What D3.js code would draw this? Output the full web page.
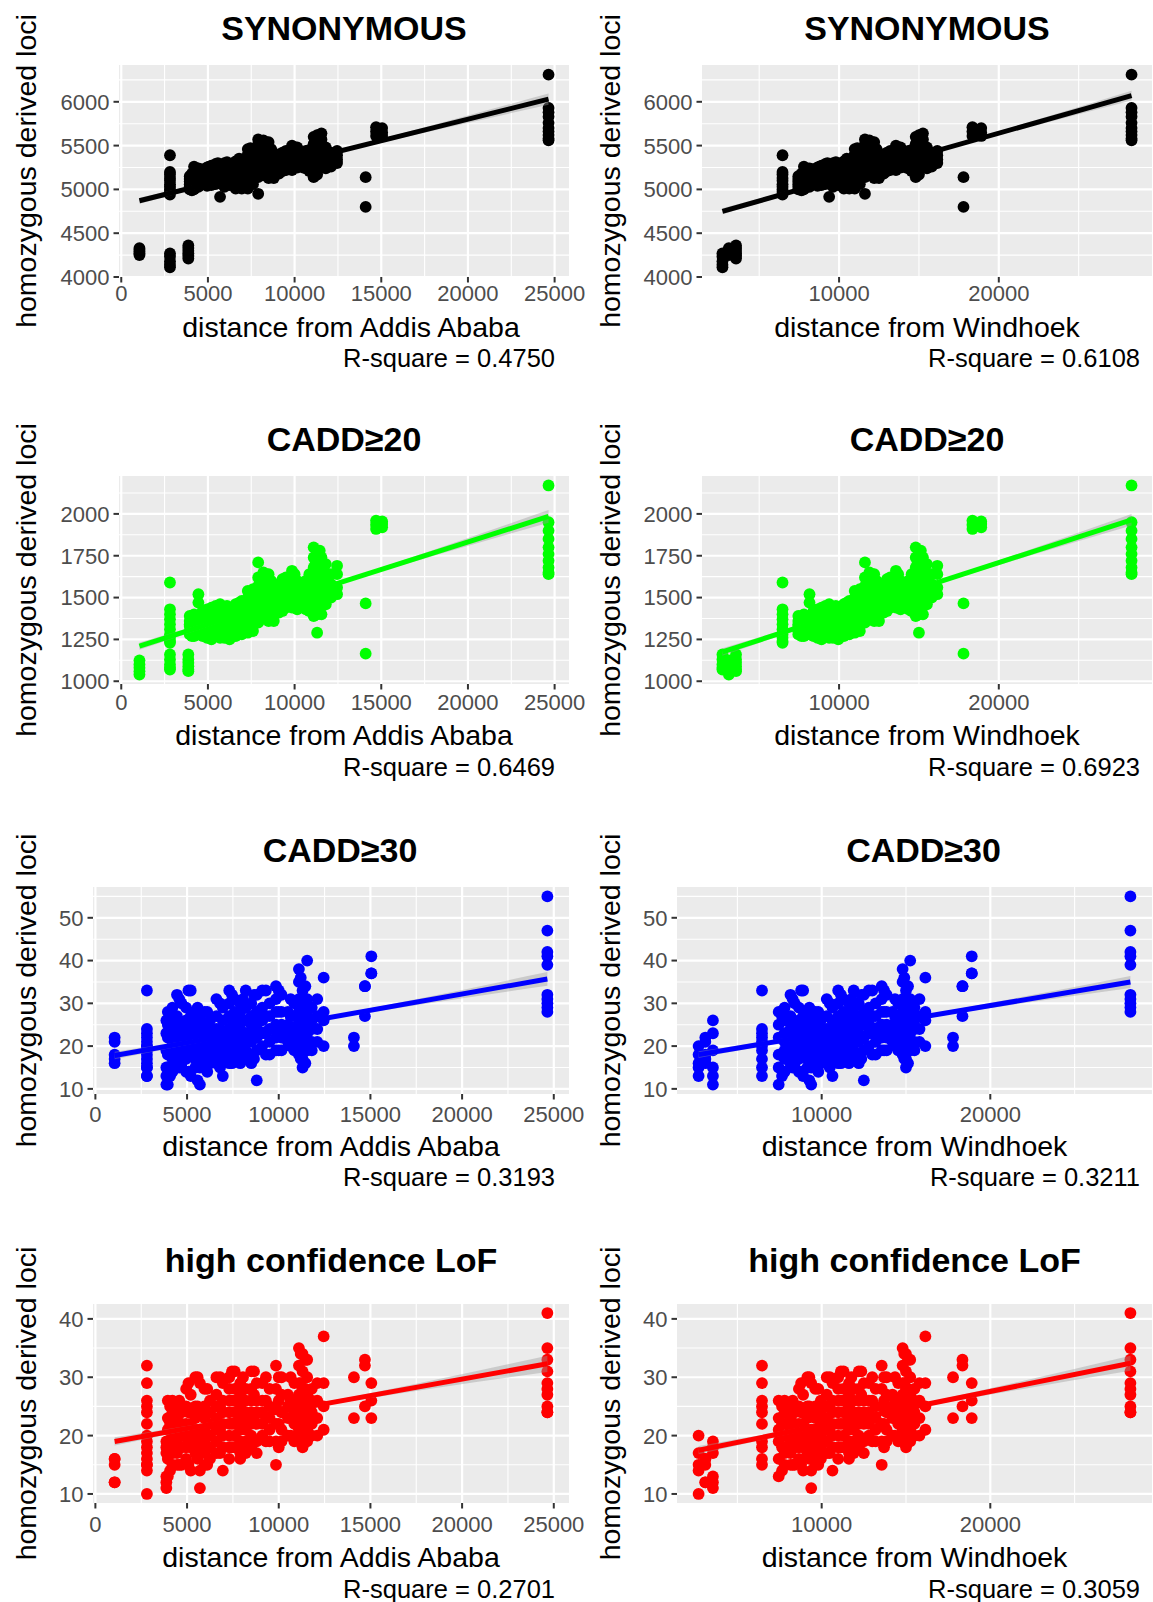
<!DOCTYPE html>
<html>
<head>
<meta charset="utf-8">
<script src="https://cdn.jsdelivr.net/npm/d3@7"></script>
<style>
  html, body { margin: 0; padding: 0; background: #ffffff; }
  svg { display: block; }
  text { font-family: "Liberation Sans", Arial, Helvetica, sans-serif; }
</style>
</head>
<body>
<svg id="chart" width="1153" height="1602"></svg>
<script>
// ---- populations: distance of each sampled population from the two reference cities ----
const distAddis = [
  1050, 2810, 2810, 3870,
  3950, 4200, 4450, 4700, 4950, 5200, 5450, 5700, 5950, 6250,
  6600, 6950, 7300, 7600, 7900, 8200, 8500, 8800, 9100, 9500,
  9850, 10150, 10500, 10850, 11100, 11300, 11550, 11800, 12450,
  14100, 14700, 15050, 24650,
  4075, 4575, 5075, 5575, 6100, 6800, 7450, 8050, 8650, 9300,
  10000, 10650, 11200, 11450, 12100
];
const distWindhoek = [
  3100, 6460, 2700, 3550,
  7450, 7800, 8150, 8400, 8650, 8900, 9150, 9380, 9620, 9950,
  10300, 10640, 10980, 11300, 11620, 11900, 12200, 12500, 12800, 13200,
  13560, 13850, 14200, 14540, 14800, 15000, 15250, 15500, 16150,
  17790, 18350, 18900, 28310,
  7650, 8280, 8780, 9270, 9800, 10480, 11140, 11760, 12350, 13000,
  13700, 14350, 14900, 15120, 15800
];

// ---- homozygous derived loci per individual, grouped by population ----
const synonymous = [
  [4330, 4310, 4290, 4270, 4250],
  [5390, 5200, 5170, 5130, 5100, 5060, 5030, 5000, 4970, 4940],
  [4270, 4230, 4180, 4140, 4110],
  [4360, 4330, 4300, 4270, 4240, 4210],
  [5150, 5120, 5090, 5060, 5030, 5000],
  [5260, 5200, 5160, 5120, 5080, 5040, 5000],
  [5240, 5190, 5150, 5110, 5070, 5030],
  [5220, 5180, 5140, 5100, 5060],
  [5250, 5200, 5160, 5120, 5080, 5040],
  [5270, 5220, 5170, 5130, 5090, 5050],
  [5290, 5240, 5190, 5150, 5110, 5060],
  [5280, 5230, 5180, 5140, 5100, 4915],
  [5300, 5250, 5200, 5160, 5120, 5080, 5030],
  [5290, 5240, 5190, 5150, 5100, 5050],
  [5320, 5260, 5210, 5160, 5110, 5060, 5010],
  [5340, 5280, 5220, 5170, 5120, 5070, 5010],
  [5460, 5400, 5300, 5240, 5180, 5130, 5070, 5010],
  [5420, 5360, 5300, 5240, 5180, 5120, 5060],
  [5570, 5510, 5380, 5320, 5260, 5200, 5140, 4950],
  [5560, 5460, 5400, 5340, 5280, 5220, 5160],
  [5540, 5420, 5360, 5300, 5240, 5180, 5130],
  [5410, 5350, 5290, 5230, 5170, 5130],
  [5400, 5340, 5290, 5240, 5180],
  [5440, 5380, 5320, 5270, 5220],
  [5500, 5440, 5380, 5320, 5260, 5220],
  [5480, 5420, 5360, 5300, 5250],
  [5420, 5360, 5300, 5250],
  [5450, 5390, 5330, 5270, 5210],
  [5600, 5520, 5440, 5380, 5320, 5260, 5200, 5140],
  [5620, 5550, 5480, 5410, 5350, 5290, 5230, 5170],
  [5640, 5570, 5500, 5430, 5370, 5310, 5250],
  [5480, 5420, 5360, 5300, 5240],
  [5440, 5390, 5340, 5300],
  [5140, 4800],
  [5710, 5660, 5610],
  [5700, 5650, 5610],
  [6310, 5930, 5880, 5830, 5760, 5700, 5660, 5620, 5580, 5560],
  [5180, 5110, 5050, 4990],
  [5230, 5170, 5110, 5050],
  [5260, 5190, 5120, 5060],
  [5300, 5230, 5170, 5100],
  [5310, 5240, 5170, 5100],
  [5350, 5270, 5190, 5110],
  [5470, 5380, 5280, 5180],
  [5550, 5440, 5330, 5220],
  [5460, 5380, 5300, 5210],
  [5420, 5350, 5280, 5210],
  [5480, 5410, 5340, 5270],
  [5440, 5370, 5300, 5240],
  [5580, 5470, 5360, 5250],
  [5600, 5490, 5380, 5270],
  [5420, 5360, 5300, 5260]
];
const cadd20 = [
  [1125, 1100, 1080, 1060, 1040],
  [1590, 1430, 1400, 1370, 1340, 1310, 1280, 1260, 1240, 1230],
  [1160, 1130, 1100, 1080, 1070],
  [1160, 1130, 1110, 1090, 1070, 1060],
  [1390, 1360, 1330, 1300, 1280, 1340],
  [1400, 1370, 1340, 1310, 1290, 1270, 1350],
  [1520, 1470, 1380, 1340, 1300, 1280],
  [1420, 1370, 1330, 1300, 1270],
  [1430, 1390, 1350, 1320, 1290, 1260],
  [1440, 1400, 1360, 1320, 1290, 1250],
  [1450, 1410, 1370, 1330, 1300, 1270],
  [1460, 1420, 1380, 1340, 1300, 1260],
  [1440, 1400, 1370, 1340, 1310, 1280, 1260],
  [1420, 1390, 1360, 1330, 1300, 1250],
  [1460, 1420, 1390, 1360, 1330, 1300, 1270],
  [1480, 1440, 1400, 1370, 1340, 1310, 1280],
  [1540, 1500, 1460, 1420, 1390, 1360, 1320, 1290],
  [1550, 1500, 1460, 1420, 1380, 1340, 1300],
  [1710, 1620, 1570, 1520, 1480, 1440, 1400, 1350],
  [1650, 1600, 1550, 1500, 1460, 1420, 1380],
  [1640, 1580, 1530, 1480, 1440, 1400, 1360],
  [1560, 1520, 1480, 1440, 1400, 1360],
  [1580, 1530, 1490, 1450, 1410],
  [1620, 1570, 1520, 1480, 1440],
  [1660, 1620, 1570, 1520, 1480, 1440],
  [1600, 1560, 1510, 1470, 1430],
  [1590, 1540, 1490, 1450],
  [1640, 1580, 1520, 1470, 1420],
  [1800, 1740, 1680, 1620, 1560, 1500, 1440, 1390],
  [1760, 1700, 1640, 1580, 1520, 1460, 1400, 1290],
  [1740, 1680, 1620, 1560, 1500, 1450, 1400],
  [1700, 1640, 1580, 1520, 1460],
  [1690, 1640, 1560, 1520],
  [1465, 1165],
  [1960, 1935, 1910],
  [1955, 1940, 1920],
  [2170, 1950, 1900, 1850, 1800, 1760, 1720, 1680, 1650, 1640],
  [1380, 1340, 1300, 1270],
  [1400, 1360, 1320, 1280],
  [1420, 1370, 1320, 1270],
  [1440, 1390, 1330, 1280],
  [1450, 1400, 1340, 1290],
  [1470, 1410, 1350, 1300],
  [1520, 1450, 1380, 1310],
  [1600, 1520, 1440, 1370],
  [1600, 1530, 1460, 1390],
  [1610, 1540, 1470, 1420],
  [1640, 1570, 1500, 1440],
  [1600, 1540, 1480, 1430],
  [1720, 1620, 1520, 1420],
  [1780, 1660, 1540, 1430],
  [1640, 1580, 1530, 1500]
];
const cadd30 = [
  [22, 21, 18, 17, 16],
  [33, 24, 23, 22, 21, 20, 19, 17, 15, 13],
  [20, 18, 16, 15, 13],
  [26, 23, 19, 15, 13, 11],
  [28, 25, 22, 18, 15, 11],
  [29, 26, 23, 21, 19, 17, 14],
  [32, 27, 24, 21, 18, 16],
  [30, 25, 22, 19, 16],
  [29, 26, 23, 20, 17, 14],
  [33, 27, 24, 21, 18, 13],
  [28, 25, 22, 19, 17, 15],
  [27, 24, 21, 18, 15, 11],
  [28, 25, 23, 21, 19, 17, 15],
  [26, 24, 22, 20, 18, 16],
  [31, 27, 24, 22, 20, 18, 16],
  [29, 26, 23, 21, 19, 17, 13],
  [33, 30, 27, 24, 22, 20, 18, 16],
  [31, 28, 25, 23, 21, 19, 17],
  [30, 28, 26, 24, 22, 20, 18, 16],
  [33, 29, 26, 23, 21, 19, 17],
  [30, 27, 25, 23, 21, 18, 16],
  [32, 28, 25, 22, 19, 12],
  [33, 29, 26, 23, 20],
  [30, 27, 24, 21, 18],
  [34, 31, 28, 25, 22, 19],
  [32, 28, 25, 22, 19],
  [28, 25, 23, 21],
  [30, 27, 24, 22, 19],
  [38, 35, 31, 28, 25, 22, 20, 18],
  [33, 30, 27, 25, 22, 20, 17, 15],
  [40, 31, 28, 25, 23, 21, 19],
  [29, 26, 24, 21, 19],
  [36, 28, 26, 20],
  [22, 20],
  [34, 34, 27],
  [41, 37, 37],
  [55, 47, 42, 41, 39, 32, 31, 30, 29, 28],
  [27, 22, 18, 13],
  [31, 25, 20, 15],
  [33, 26, 21, 14],
  [29, 23, 17, 12],
  [28, 22, 18, 14],
  [30, 24, 19, 15],
  [32, 26, 21, 16],
  [31, 26, 21, 17],
  [32, 27, 22, 17],
  [33, 27, 23, 18],
  [33, 28, 23, 19],
  [31, 27, 23, 20],
  [36, 29, 23, 17],
  [34, 29, 24, 16],
  [31, 27, 24, 21]
];
const lofHighConfidence = [
  [16, 16, 15, 12, 12],
  [32, 29, 26, 25, 24, 22, 19, 18, 16, 15],
  [20, 17, 15, 14, 10],
  [19, 18, 17, 13, 12, 11],
  [26, 23, 21, 19, 16, 13],
  [26, 24, 22, 20, 18, 17, 15],
  [25, 23, 21, 19, 17, 15],
  [24, 22, 20, 18, 15],
  [28, 25, 22, 20, 18, 16],
  [27, 24, 22, 20, 18, 14],
  [30, 25, 23, 21, 19, 17],
  [29, 24, 21, 18, 14, 11],
  [28, 25, 23, 21, 19, 17, 15],
  [26, 24, 22, 20, 18, 16],
  [30, 27, 25, 23, 21, 19, 17],
  [29, 26, 24, 22, 20, 18, 14],
  [30, 28, 26, 24, 22, 20, 18, 16],
  [31, 28, 26, 24, 22, 20, 18],
  [29, 27, 25, 23, 21, 19, 17, 16],
  [28, 26, 24, 22, 21, 19, 17],
  [31, 28, 26, 24, 22, 20, 18],
  [29, 26, 24, 22, 19, 17],
  [29, 26, 24, 22, 20],
  [28, 25, 23, 21, 19],
  [32, 28, 25, 22, 19, 15],
  [30, 27, 24, 21, 19],
  [27, 25, 23, 20],
  [29, 26, 24, 22, 19],
  [35, 32, 29, 27, 25, 23, 21, 19],
  [34, 31, 28, 26, 24, 22, 20, 18],
  [33, 30, 27, 25, 23, 21, 19],
  [28, 26, 24, 22, 20],
  [37, 29, 25, 21],
  [30, 23],
  [33, 32, 25],
  [29, 26, 23],
  [41, 35, 33, 31, 29, 28, 27, 25, 24, 24],
  [25, 22, 18, 14],
  [26, 22, 18, 15],
  [29, 24, 19, 15],
  [30, 25, 20, 16],
  [28, 24, 20, 15],
  [30, 25, 21, 17],
  [31, 26, 22, 18],
  [30, 26, 22, 18],
  [31, 27, 23, 19],
  [30, 26, 23, 19],
  [30, 26, 22, 18],
  [30, 26, 23, 20],
  [34, 29, 24, 20],
  [33, 28, 23, 19],
  [29, 26, 23, 20]
];

// ---- labels, ticks and fitted lines ----
const categories = ["SYNONYMOUS", "CADD\u226520", "CADD\u226530", "high confidence LoF"];
const categoryValues = [synonymous, cadd20, cadd30, lofHighConfidence];
const yTickValues = [
  [4000, 4500, 5000, 5500, 6000],
  [1000, 1250, 1500, 1750, 2000],
  [10, 20, 30, 40, 50],
  [10, 20, 30, 40]
];
const xTickValues = [
  [0, 5000, 10000, 15000, 20000, 25000],
  [10000, 20000]
];
const xTitles = ["distance from Addis Ababa", "distance from Windhoek"];
const yTitle = "homozygous derived loci";
const rsqAddis = ["0.4750", "0.6469", "0.3193", "0.2701"];
const rsqWindhoek = ["0.6108", "0.6923", "0.3211", "0.3059"];
// linear fit end points [x0, y0, x1, y1]
const fitAddis = [
  [1050, 4870, 24650, 6030],
  [1050, 1210, 24650, 1985],
  [1050, 17.8, 24650, 35.7],
  [1050, 19.0, 24650, 32.3]
];
const fitWindhoek = [
  [2700, 4750, 28310, 6070],
  [2700, 1175, 28310, 1965],
  [2700, 18.0, 28310, 35.0],
  [2700, 17.5, 28310, 32.4]
];
// confidence band half widths at [start, centre, end] of each fit
const bandAddis = [[35, 12, 65], [22, 7, 38], [0.9, 0.3, 1.6], [0.7, 0.25, 1.4]];
const bandWindhoek = [[35, 12, 55], [22, 7, 34], [0.8, 0.3, 1.4], [0.7, 0.25, 1.3]];

// ---- styling & layout ----
const pointColors = ["#000000", "#00ff00", "#0000ff", "#ff0000"];
const rows = [
  { top: 65,   bottom: 277,  titleY: 40,    tickY: 301,  axisY: 337,  rsqY: 366.5, titleDx: 0 },
  { top: 476,  bottom: 684,  titleY: 450.5, tickY: 710,  axisY: 745,  rsqY: 776,   titleDx: 0 },
  { top: 887,  bottom: 1094, titleY: 862,   tickY: 1122, axisY: 1156, rsqY: 1186,  titleDx: 9 },
  { top: 1304, bottom: 1503, titleY: 1272,  tickY: 1532, axisY: 1567, rsqY: 1598,  titleDx: 0 }
];
const panelLeftWide = [119, 702];   // 4-digit y labels
const panelLeftNarrow = [93, 677];  // 2-digit y labels
const panelRight = [569, 1152];
const yTitleX = [25.5, 610];
const rsqRight = [555, 1140];
const axisTitleDx = [[7, 0], [0, 0], [0, 0], [0, 0]];

const svg = d3.select("#chart");
svg.append("rect").attr("width", 1153).attr("height", 1602).attr("fill", "#ffffff");

function expanded(ext) {
  const pad = (ext[1] - ext[0]) * 0.05;
  return [ext[0] - pad, ext[1] + pad];
}
function minorsOf(majors, domain) {
  const step = majors.length > 1 ? majors[1] - majors[0] : 1;
  const out = [];
  for (let v = majors[0] - step / 2; v <= majors[majors.length - 1] + step / 2 + 1e-9; v += step) {
    if (v >= domain[0] && v <= domain[1]) out.push(v);
  }
  return out;
}

function drawPanel(r, c) {
  const row = rows[r];
  const left = (r < 2 ? panelLeftWide : panelLeftNarrow)[c];
  const right = panelRight[c];
  const dist = c === 0 ? distAddis : distWindhoek;
  const values = categoryValues[r];
  const pts = [];
  values.forEach((grp, i) => grp.forEach(v => pts.push({ x: dist[i], y: v })));

  const xDom = expanded(d3.extent(pts, d => d.x));
  const yDom = expanded(d3.extent(pts, d => d.y));
  const x = d3.scaleLinear().domain(xDom).range([left, right]);
  const y = d3.scaleLinear().domain(yDom).range([row.bottom, row.top]);

  const g = svg.append("g");

  // panel background
  g.append("rect")
    .attr("x", left).attr("y", row.top)
    .attr("width", right - left).attr("height", row.bottom - row.top)
    .attr("fill", "#ebebeb");

  const xMajor = xTickValues[c].filter(v => v >= xDom[0] && v <= xDom[1]);
  const xMinor = minorsOf(xTickValues[c], xDom);
  const yMajor = yTickValues[r];
  const yMinor = minorsOf(yMajor, yDom);

  // grid lines
  const grid = g.append("g").attr("stroke", "#ffffff").attr("fill", "none");
  grid.selectAll(".xmin").data(xMinor).join("line")
    .attr("x1", d => x(d)).attr("x2", d => x(d))
    .attr("y1", row.top).attr("y2", row.bottom).attr("stroke-width", 1.1);
  grid.selectAll(".ymin").data(yMinor).join("line")
    .attr("y1", d => y(d)).attr("y2", d => y(d))
    .attr("x1", left).attr("x2", right).attr("stroke-width", 1.1);
  grid.selectAll(".xmaj").data(xMajor).join("line")
    .attr("x1", d => x(d)).attr("x2", d => x(d))
    .attr("y1", row.top).attr("y2", row.bottom).attr("stroke-width", 2.2);
  grid.selectAll(".ymaj").data(yMajor).join("line")
    .attr("y1", d => y(d)).attr("y2", d => y(d))
    .attr("x1", left).attr("x2", right).attr("stroke-width", 2.2);

  // points
  g.append("g").selectAll("circle").data(pts).join("circle")
    .attr("cx", d => x(d.x)).attr("cy", d => y(d.y))
    .attr("r", 5.9).attr("fill", pointColors[r]);

  // fitted line with confidence band
  const fit = (c === 0 ? fitAddis : fitWindhoek)[r];
  const band = (c === 0 ? bandAddis : bandWindhoek)[r];
  const lineAt = t => fit[1] + (fit[3] - fit[1]) * (t - fit[0]) / (fit[2] - fit[0]);
  const xm = d3.mean(pts, d => d.x);
  const bandPts = [
    { t: fit[0], h: band[0] },
    { t: xm, h: band[1] },
    { t: fit[2], h: band[2] }
  ];
  g.append("path")
    .datum(bandPts)
    .attr("d", d3.area()
      .x(d => x(d.t))
      .y0(d => y(lineAt(d.t) - d.h))
      .y1(d => y(lineAt(d.t) + d.h))
      .curve(d3.curveMonotoneX))
    .attr("fill", "#999999").attr("fill-opacity", 0.4);
  g.append("line")
    .attr("x1", x(fit[0])).attr("y1", y(fit[1]))
    .attr("x2", x(fit[2])).attr("y2", y(fit[3]))
    .attr("stroke", pointColors[r]).attr("stroke-width", 5);

  // axes ticks
  const ticks = g.append("g").attr("stroke", "#333333").attr("stroke-width", 2);
  ticks.selectAll(".yt").data(yMajor).join("line")
    .attr("x1", left - 5.5).attr("x2", left)
    .attr("y1", d => y(d)).attr("y2", d => y(d));
  ticks.selectAll(".xt").data(xMajor).join("line")
    .attr("x1", d => x(d)).attr("x2", d => x(d))
    .attr("y1", row.bottom).attr("y2", row.bottom + 5.5);

  g.append("g").selectAll("text").data(yMajor).join("text")
    .attr("x", left - 9.5).attr("y", d => y(d)).attr("dy", "0.36em")
    .attr("text-anchor", "end").attr("font-size", 22).attr("fill", "#4d4d4d")
    .text(d => d);
  g.append("g").selectAll("text").data(xMajor).join("text")
    .attr("x", d => x(d)).attr("y", row.tickY)
    .attr("text-anchor", "middle").attr("font-size", 22).attr("fill", "#4d4d4d")
    .text(d => d);

  // titles
  const cx = (left + right) / 2;
  g.append("text")
    .attr("x", cx + row.titleDx).attr("y", row.titleY)
    .attr("text-anchor", "middle").attr("font-size", 34).attr("font-weight", "bold")
    .attr("fill", "#000000").text(categories[r]);
  g.append("text")
    .attr("x", cx + axisTitleDx[r][c]).attr("y", row.axisY)
    .attr("text-anchor", "middle").attr("font-size", 28.5).attr("fill", "#000000")
    .text(xTitles[c]);
  g.append("text")
    .attr("transform", `translate(${yTitleX[c]},${(row.top + row.bottom) / 2}) rotate(-90)`)
    .attr("dy", "0.36em")
    .attr("text-anchor", "middle").attr("font-size", 28.5).attr("fill", "#000000")
    .text(yTitle);
  g.append("text")
    .attr("x", rsqRight[c]).attr("y", row.rsqY)
    .attr("text-anchor", "end").attr("font-size", 25.5).attr("fill", "#000000")
    .text("R-square = " + (c === 0 ? rsqAddis : rsqWindhoek)[r]);
}

for (let r = 0; r < 4; r++) {
  for (let c = 0; c < 2; c++) drawPanel(r, c);
}
</script>
</body>
</html>
